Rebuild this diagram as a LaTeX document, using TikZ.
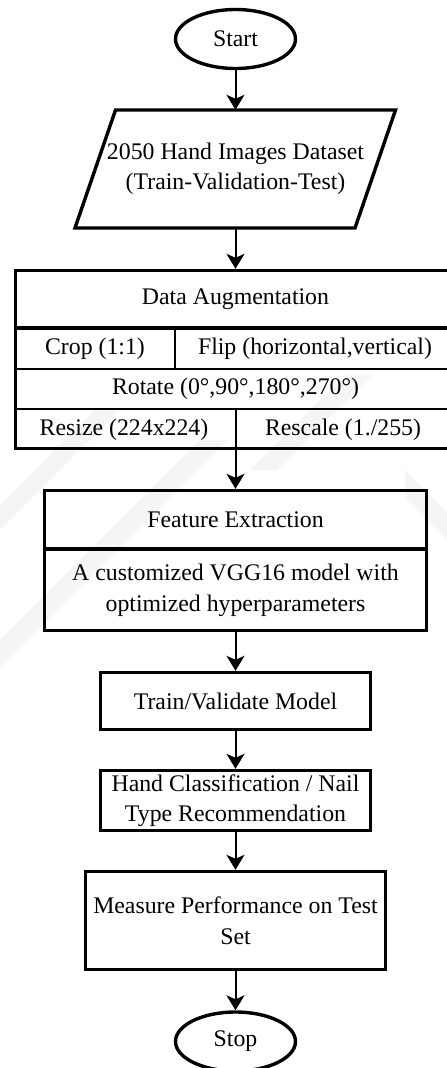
\documentclass[tikz,border=0pt]{standalone}
\usepackage{fontspec}
\setmainfont{Liberation Serif}
\usetikzlibrary{shapes.geometric,arrows.meta}

\begin{document}
\begin{tikzpicture}[x=1pt,y=-1pt,
  every node/.style={font=\fontsize{23.8}{30.5}\selectfont, align=center, inner sep=0pt},
  term/.style={ellipse, draw, line width=3.4pt, minimum width=120pt, minimum height=59pt},
  proc/.style={rectangle, draw, line width=3.4pt},
  flow/.style={line width=2pt, -{Stealth[length=15pt,width=18pt,inset=4pt]}},
  thickrule/.style={line width=3.4pt},
  thinrule/.style={line width=2.2pt},
  wm/.style={fill=black!4}
]
\useasboundingbox (0,0) rectangle (447,1068);
\clip (0,0) rectangle (447,1068);

% faint background stripes
\fill[wm] (0,505) -- (95,410) -- (120,410) -- (0,530) -- cycle;
\fill[wm] (0,640) -- (200,440) -- (228,440) -- (0,668) -- cycle;
\fill[wm] (250,470) -- (345,375) -- (372,375) -- (277,470) -- cycle;
\fill[wm] (405,470) -- (447,512) -- (447,540) -- (405,498) -- cycle;

% terminals
\node[term] (start) at (235.5,39) {Start};
\node[term] (stop) at (235.5,1041.5) {Stop};

% input/output parallelogram
\node[minimum height=118pt] (data) at (235.5,169) {2050 Hand Images Dataset\\(Train-Validation-Test)};
\draw[line width=3.4pt, line join=miter] (115.5,110) -- (395.5,110) -- (355,228) -- (75,228) -- cycle;

% augmentation table
\node[proc, minimum width=440pt, minimum height=178pt] (aug) at (235.5,359.5) {};
\draw[thickrule] (15.5,328) -- (455.5,328);
\draw[thinrule] (15.5,369) -- (455.5,369);
\draw[thinrule] (15.5,409) -- (455.5,409);
\draw[thinrule] (175,328) -- (175,369);
\draw[thinrule] (236,409) -- (236,448.5);
\node (augtitle) at (235.5,299.5) {Data Augmentation};
\node (crop) at (95,348.5) {Crop (1:1)};
\node (flip) at (315,348.5) {Flip (horizontal,vertical)};
\node (rot) at (235.5,389) {Rotate (0°,90°,180°,270°)};
\node (resize) at (124,429.5) {Resize (224x224)};
\node (rescale) at (343,429.5) {Rescale (1./255)};

% feature extraction
\node[proc, minimum width=382pt, minimum height=140pt] (feat) at (235.5,560.5) {};
\draw[thickrule] (44.5,549) -- (426.5,549);
\node (feattitle) at (235.5,519.5) {Feature Extraction};
\node (featbody) at (235.5,590.5) {A customized VGG16 model with\\optimized hyperparameters};

% processing steps
\node[proc, minimum width=270pt, minimum height=57pt] (train) at (235.5,701) {Train/Validate Model};
\node[proc, minimum width=270pt, minimum height=60pt] (hand) at (235.5,800.5) {Hand Classification / Nail\\Type Recommendation};
\node[proc, minimum width=300pt, minimum height=98pt] (meas) at (235.5,920.5) {Measure Performance on Test\\Set};

% connectors
\draw[flow] (start) -- (data);
\draw[flow] (data) -- (aug);
\draw[flow] (aug) -- (feat);
\draw[flow] (feat) -- (train);
\draw[flow] (train) -- (hand);
\draw[flow] (hand) -- (meas);
\draw[flow] (meas) -- (stop);
\end{tikzpicture}
\end{document}
